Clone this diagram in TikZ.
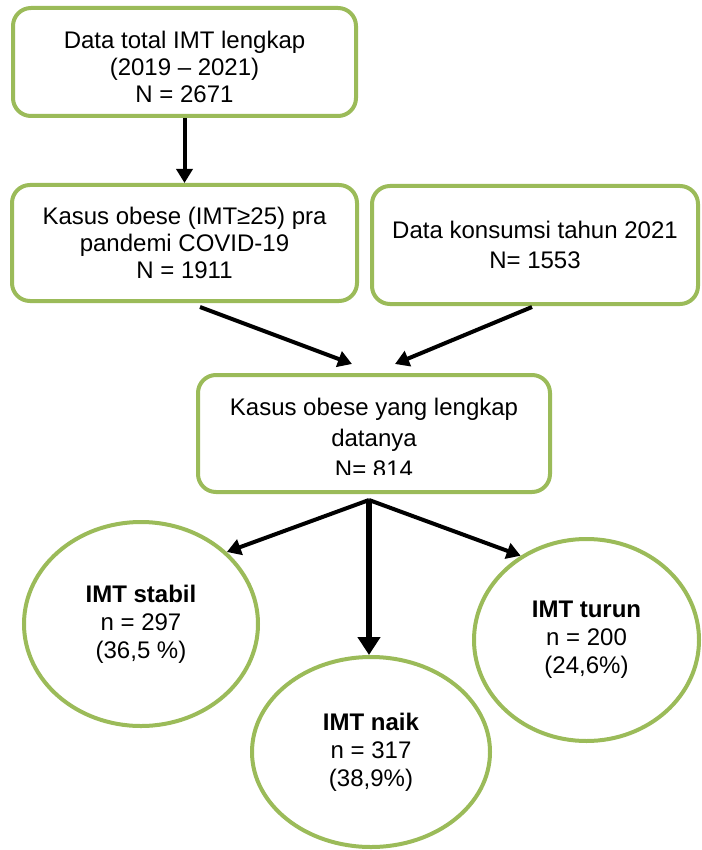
\documentclass[tikz,border=0pt]{standalone}
\usepackage{fontspec}
\setmainfont{Liberation Sans}
\usetikzlibrary{shapes.geometric}
\usetikzlibrary{arrows.meta}
\definecolor{imtgreen}{HTML}{9BBB59}

\begin{document}
\begin{tikzpicture}[x=1pt, y=-1pt,
    box/.style={draw=imtgreen, line width=4pt, rounded corners=18pt, align=center, inner sep=0pt, font=\fontsize{24}{27}\selectfont},
    txt/.style={align=center, inner sep=0pt, font=\fontsize{24}{27}\selectfont},
    oval/.style={ellipse, draw=imtgreen, line width=4pt, align=center, inner sep=0pt, font=\fontsize{24}{28}\selectfont},
    arr/.style={line width=4pt, -{Triangle[length=14pt, width=16pt]}},
    bigarr/.style={line width=6pt, -{Triangle[length=18pt, width=22pt]}}]
    \useasboundingbox (0, 0) rectangle (701, 850);
    % boxes
    \node [box, minimum width=343pt, minimum height=108pt] (0) at (184.5, 62) {};
    \node [txt] (10) at (184.5, 67) {Data total IMT lengkap\\(2019 – 2021)\\N = 2671};
    \node [box, minimum width=345pt, minimum height=116pt] (1) at (184.5, 243) {Kasus obese (IMT≥25) pra\\pandemi COVID-19\\N = 1911};
    \node [box, minimum width=326pt, minimum height=118pt, font=\fontsize{24}{30}\selectfont] (2) at (535, 245) {Data konsumsi tahun 2021\\N= 1553};
    \node [box, minimum width=352pt, minimum height=117pt] (3) at (374, 433.5) {};
    \begin{scope}
      \clip (200, 377) rectangle (548, 474); % text cut off at the bottom
      \node [txt, font=\fontsize{24}{31}\selectfont] (11) at (374, 438) {Kasus obese yang lengkap\\datanya\\N= 814};
    \end{scope}
    % groups
    \node [oval, minimum width=234pt, minimum height=204pt] (4) at (141, 624) {\textbf{IMT stabil}\\n = 297\\(36,5 \%)};
    \node [oval, minimum width=238pt, minimum height=190pt] (5) at (371, 752) {\textbf{IMT naik}\\n = 317\\(38,9\%)};
    \node [oval, minimum width=225pt, minimum height=202pt] (6) at (586.5, 640) {\textbf{IMT turun}\\n = 200\\(24,6\%)};
    \coordinate (7) at ([xshift=-5pt, yshift=-6pt]3.south); % split point
    % arrows
    \draw [arr] (0.south) to (0.south |- 1.north);
    \draw [arr] ([xshift=15.5pt, yshift=-4pt]1.south) to ([xshift=-22pt, yshift=9pt]3.north);
    \draw [arr] ([xshift=-3pt, yshift=-1pt]2.south) to ([xshift=21pt, yshift=9pt]3.north);
    \draw [arr] (7) to (4.40);
    \draw [bigarr] (7) to (7 |- 5.north);
    \draw [arr] (7) to (6.128);
\end{tikzpicture}
\end{document}
